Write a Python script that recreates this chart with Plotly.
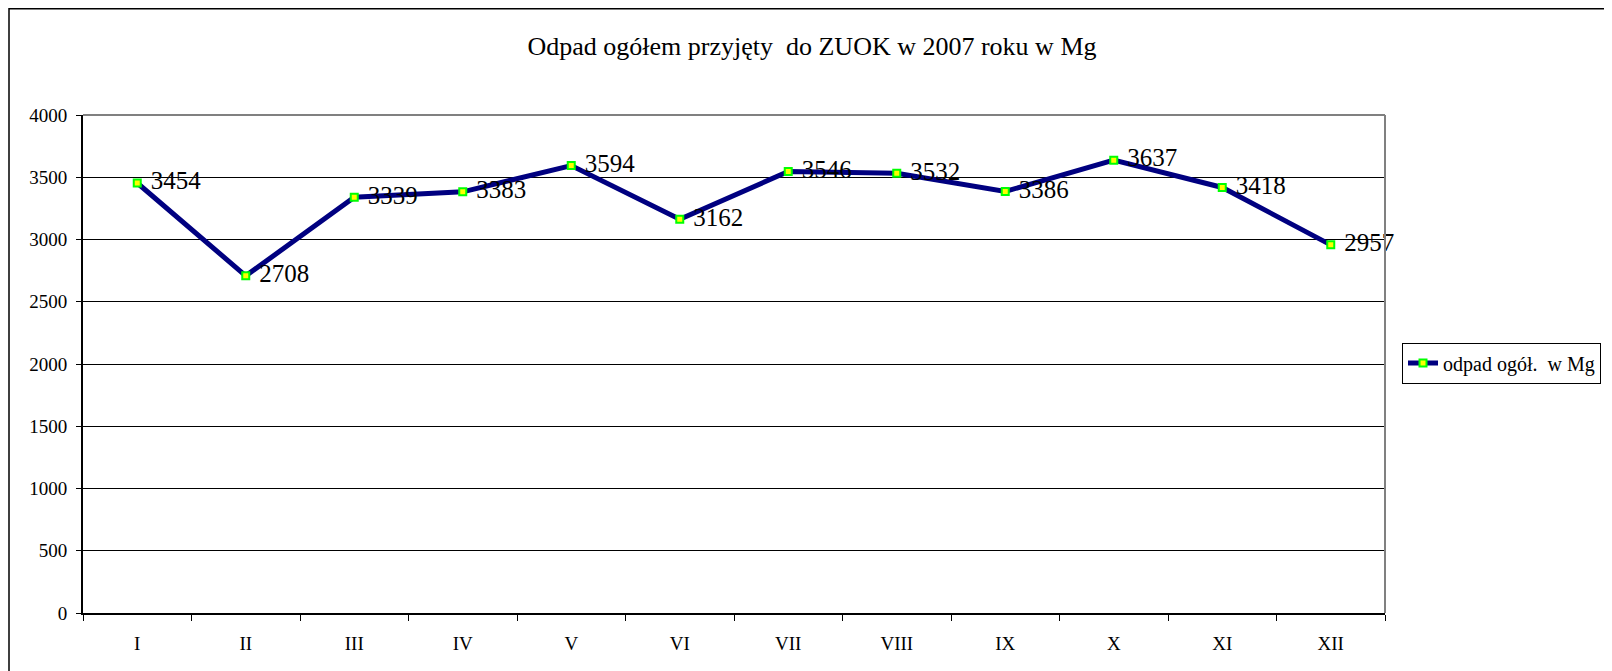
import plotly.graph_objects as go

months = ["I", "II", "III", "IV", "V", "VI", "VII", "VIII", "IX", "X", "XI", "XII"]
values = [3454, 2708, 3339, 3383, 3594, 3162, 3546, 3532, 3386, 3637, 3418, 2957]
series_name = "odpad ogół.  w Mg"
title_text = "Odpad ogółem przyjęty  do ZUOK w 2007 roku w Mg"

FONT = "Liberation Serif, Times New Roman, serif"
W, H = 1604, 671
L, R, T, B = 75, 1377, 107, 605

fig = go.Figure()
fig.add_trace(go.Scatter(
    x=months, y=values, name=series_name, mode="lines+markers",
    line=dict(color="#000080", width=5),
    marker=dict(symbol="square", size=7, color="#ffff00",
                line=dict(color="#00ff00", width=2)),
))
fig.add_trace(go.Scatter(
    x=months, y=values, mode="markers+text", text=[str(v) for v in values],
    textposition="middle right", showlegend=False, cliponaxis=False,
    marker=dict(size=20, opacity=0),
    textfont=dict(family=FONT, size=25, color="black"), hoverinfo="skip",
))

def px_x(p):
    return (p - L) / (R - L)

def px_y(p):
    return (B - p) / (B - T)

shapes = [
    dict(type="rect", xref="paper", yref="paper",
         x0=px_x(1), x1=px_x(1603), y0=px_y(690), y1=px_y(0.75),
         line=dict(color="black", width=1.5), layer="below"),
    dict(type="line", xref="paper", yref="paper", x0=0, x1=1, y0=1, y1=1,
         line=dict(color="#808080", width=2), layer="above"),
    dict(type="line", xref="paper", yref="paper", x0=1, x1=1, y0=0, y1=1,
         line=dict(color="#808080", width=2), layer="above"),
]

fig.update_layout(
    width=W, height=H,
    margin=dict(l=L, r=W - R, t=T, b=H - B, autoexpand=False),
    paper_bgcolor="white", plot_bgcolor="white",
    font=dict(family=FONT, size=19, color="black"),
    title=dict(text=title_text, x=804 / W, xanchor="center",
               y=1 - 38 / H, yanchor="middle",
               font=dict(family=FONT, size=26, color="black")),
    showlegend=True,
    legend=dict(x=px_x(1394), xanchor="left", y=px_y(355), yanchor="middle",
                bordercolor="black", borderwidth=1, bgcolor="white",
                font=dict(family=FONT, size=20, color="black"),
                itemwidth=30, tracegroupgap=0),
    shapes=shapes,
    xaxis=dict(type="category", tickson="boundaries", ticks="outside",
               ticklen=6, tickcolor="black", showline=True, linecolor="black",
               linewidth=2, showgrid=False, ticklabelstandoff=12,
               tickfont=dict(family=FONT, size=19), range=[-0.5, 11.5]),
    yaxis=dict(range=[0, 4000], dtick=500, ticks="outside", ticklen=5,
               tickcolor="black", showline=True, linecolor="black",
               linewidth=2, showgrid=True, gridcolor="black", gridwidth=1,
               zeroline=False, ticklabelstandoff=5,
               tickfont=dict(family=FONT, size=19)),
)

fig.write_html("out.html")
